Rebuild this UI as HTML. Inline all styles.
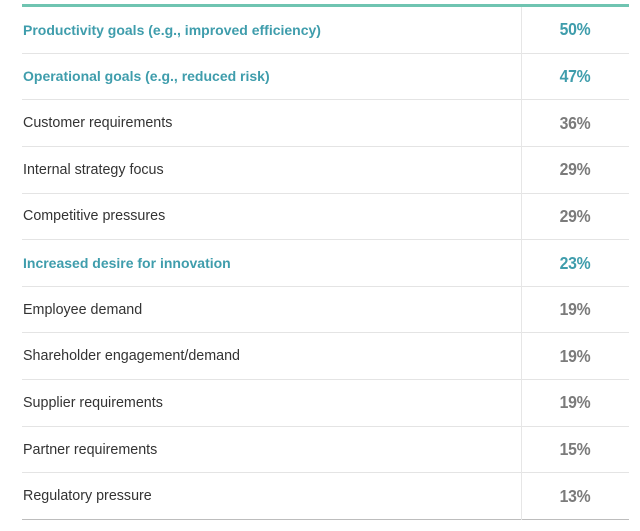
<!DOCTYPE html>
<html>
<head>
<meta charset="utf-8">
<style>
html,body{margin:0;padding:0;background:#fff;}
body{width:640px;height:531px;position:relative;overflow:hidden;font-family:"Liberation Sans",sans-serif;}
.top{position:absolute;left:22px;top:4px;width:607px;height:3px;background:#6fc4b1;}
.vline{position:absolute;left:521px;top:7px;width:1px;height:513px;background:#e6e6e6;}
.row{position:absolute;left:22px;width:607px;height:46.64px;border-bottom:1px solid #e4e4e4;box-sizing:border-box;}
.row.last{border-bottom:1px solid #bdbdbd;}
.lab{position:absolute;left:1px;top:0;height:100%;display:flex;align-items:center;font-size:14.3px;color:#333;white-space:nowrap;}
.lab.b{font-weight:bold;font-size:14px;color:#3f9dac;}
.pct{position:absolute;left:499px;width:108px;top:0;height:100%;display:flex;align-items:center;justify-content:center;font-weight:bold;font-size:17.5px;letter-spacing:-0.3px;color:#7b7b7b;transform:scaleX(0.9);}
.pct.b{color:#3f9dac;}
</style>
</head>
<body>
<div class="top"></div>
<div class="row" style="top:7px"><div class="lab b">Productivity goals (e.g., improved efficiency)</div><div class="pct b">50%</div></div>
<div class="row" style="top:53.64px"><div class="lab b">Operational goals (e.g., reduced risk)</div><div class="pct b">47%</div></div>
<div class="row" style="top:100.28px"><div class="lab">Customer requirements</div><div class="pct">36%</div></div>
<div class="row" style="top:146.92px"><div class="lab">Internal strategy focus</div><div class="pct">29%</div></div>
<div class="row" style="top:193.56px"><div class="lab">Competitive pressures</div><div class="pct">29%</div></div>
<div class="row" style="top:240.2px"><div class="lab b">Increased desire for innovation</div><div class="pct b">23%</div></div>
<div class="row" style="top:286.84px"><div class="lab">Employee demand</div><div class="pct">19%</div></div>
<div class="row" style="top:333.48px"><div class="lab">Shareholder engagement/demand</div><div class="pct">19%</div></div>
<div class="row" style="top:380.12px"><div class="lab">Supplier requirements</div><div class="pct">19%</div></div>
<div class="row" style="top:426.76px"><div class="lab">Partner requirements</div><div class="pct">15%</div></div>
<div class="row last" style="top:473.4px"><div class="lab">Regulatory pressure</div><div class="pct">13%</div></div>
<div class="vline"></div>
</body>
</html>
